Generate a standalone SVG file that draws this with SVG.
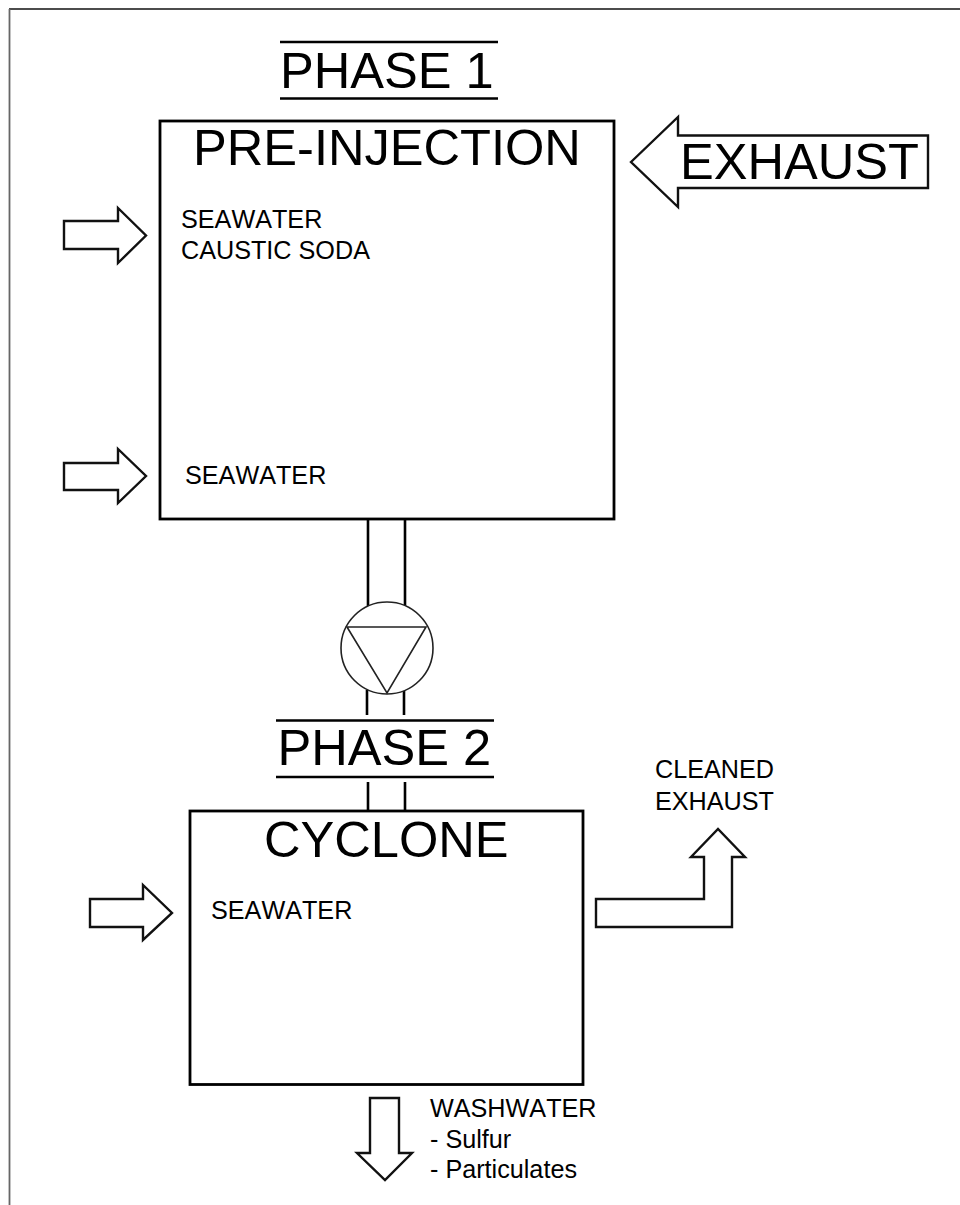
<svg xmlns="http://www.w3.org/2000/svg" width="960" height="1205" viewBox="0 0 960 1205">
<style>
text{font-family:"Liberation Sans",Arial,sans-serif;fill:#000;font-kerning:none}
.lg{font-size:50.600px}
.sm{font-size:25.200px}
.box{fill:#fff;stroke:#000;stroke-width:2.8}
.ar{fill:#fff;stroke:#111;stroke-width:2.4;stroke-linejoin:miter}
.ln{fill:none;stroke:#000;stroke-width:2.6}
.th{fill:none;stroke:#222;stroke-width:1.6}
</style>
<rect width="960" height="1205" fill="#fff"/>
<g id="frame">
<path d="M960 9H9" fill="none" stroke="#111" stroke-width="1.4"/>
<path d="M9.5 9V1205" fill="none" stroke="#666" stroke-width="1.8"/>
</g>
<g id="connectors">
<path class="ln" d="M368 519V606M405 519V606M367 690V715M404 690V715M368 782V811M405 782V811"/>
</g>
<g id="phase1-title">
<path class="ln" d="M280 42H498M280 98.500H498"/>
<text class="lg" x="280" y="88">PHASE 1</text>
</g>
<g id="pre-injection">
<rect class="box" x="160" y="121" width="454" height="398"/>
<text class="lg" x="193" y="165">PRE-INJECTION</text>
<text class="sm" x="181" y="228">SEAWATER</text>
<text class="sm" x="181" y="259">CAUSTIC SODA</text>
<text class="sm" x="185" y="484">SEAWATER</text>
</g>
<g id="exhaust-in">
<path class="ar" d="M631 162L678 117V135.500H928V188H678V207Z"/>
<text class="lg" x="680" y="179">EXHAUST</text>
</g>
<g id="seawater-in-1"><path class="ar" d="M64 221H118V208L146 235.500L118 263V249H64Z"/></g>
<g id="seawater-in-2"><path class="ar" d="M64 463H118V449L146 476L118 503V490H64Z"/></g>
<g id="pump">
<circle cx="387" cy="648" r="46" fill="#fff" stroke="#222" stroke-width="1.6"/>
<path class="th" d="M347 627H426L387 693Z"/>
</g>
<g id="phase2-title">
<path class="ln" d="M276 720.500H494M276 777H494"/>
<text class="lg" x="277.500" y="765">PHASE 2</text>
</g>
<g id="cyclone">
<rect class="box" x="190" y="811" width="393" height="273.500"/>
<text class="lg" x="264" y="857">CYCLONE</text>
<text class="sm" x="211" y="919">SEAWATER</text>
</g>
<g id="seawater-in-3"><path class="ar" d="M90 899H143V885L172 913L143 940V927H90Z"/></g>
<g id="cleaned-exhaust">
<path class="ar" d="M596 899H704V857H691L718 829L745 857H732V927H596Z"/>
<text class="sm" x="655" y="778">CLEANED</text>
<text class="sm" x="655" y="810">EXHAUST</text>
</g>
<g id="washwater">
<path class="ar" d="M370 1098H399V1153H412L385 1180L357 1153H370Z"/>
<text class="sm" x="430" y="1117">WASHWATER</text>
<text class="sm" x="430" y="1148">- Sulfur</text>
<text class="sm" x="430" y="1178">- Particulates</text>
</g>
</svg>
